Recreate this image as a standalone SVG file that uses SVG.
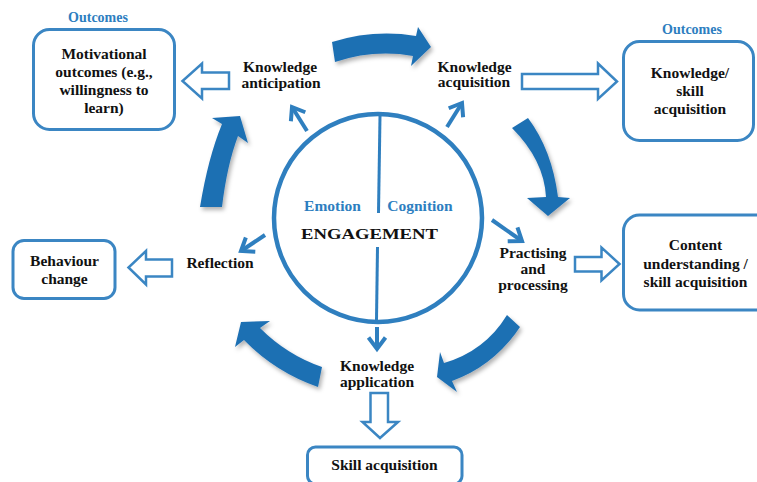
<svg xmlns="http://www.w3.org/2000/svg" width="757" height="482" viewBox="0 0 757 482">
  <style>
    .lbl { font-family: "Liberation Serif", "Times New Roman", serif; font-weight: bold; font-size: 15.5px; fill: #111; text-anchor: middle; }
    .blue { font-family: "Liberation Serif", "Times New Roman", serif; font-weight: bold; fill: #2d7ec0; text-anchor: middle; }
    .box { fill: #fff; stroke: #3b86c3; stroke-width: 3; }
    .hollow { fill: #fff; stroke: #3b86c3; stroke-width: 2.5; stroke-linejoin: miter; }
    .cycle { fill: #1f6fb3; filter: url(#shadow); }
    .thin { fill: none; stroke: #2f7fbf; stroke-width: 4; marker-end: url(#chev); }
  </style>
  <defs>
    <filter id="shadow" x="-30%" y="-30%" width="160%" height="160%">
      <feDropShadow dx="2" dy="3" stdDeviation="2" flood-color="#000" flood-opacity="0.3"/>
    </filter>
    <marker id="chev" markerUnits="userSpaceOnUse" viewBox="-16 -12 20 24" markerWidth="20" markerHeight="24" refX="0" refY="0" orient="auto">
      <path d="M-11.5,-8.5 L0,0 L-11.5,8.5" fill="none" stroke="#2f7fbf" stroke-width="4"/>
    </marker>
  </defs>

  <rect width="757" height="482" fill="#fff"/>

  <!-- cycle of thick curved arrows around the engagement circle -->
  <g id="cycle-arrows">
    <path class="cycle" d="M332,42 Q374,29 416,36 L418,27 L431,47 L411,66 L413,56 Q374,49 335,62 Z"/>
    <path class="cycle" d="M528,118 Q552,150 558,197 L570,198 L548,216 L527,198 L546,197 Q544,160 512,128 Z"/>
    <path class="cycle" d="M520,327 Q494,366 452,381 L457,392 L437,377 L440,352 L444,363 Q485,351 507,315 Z"/>
    <path class="cycle" d="M322,367 Q287,355 260,328 L270,321 L241,322 L235,347 L244,340 Q275,372 318,387 Z"/>
    <path class="cycle" d="M200,207 Q208,158 222,124 L212,118 L240,116 L248,143 L238,136 Q227,165 222,207 Z"/>
  </g>

  <!-- engagement circle -->
  <g id="engagement">
    <circle cx="378" cy="218" r="104" fill="none" stroke="#2f7fbf" stroke-width="4.5"/>
    <line x1="380" y1="116" x2="378.5" y2="213" stroke="#2f7fbf" stroke-width="3"/>
    <line x1="377.5" y1="247" x2="376.5" y2="320" stroke="#2f7fbf" stroke-width="3"/>
    <text class="blue" x="332.5" y="211" font-size="15.5">Emotion</text>
    <text class="blue" x="420" y="211" font-size="15.5">Cognition</text>
    <text class="lbl" x="369.5" y="238.5" font-size="19" textLength="137" lengthAdjust="spacingAndGlyphs">ENGAGEMENT</text>
  </g>

  <!-- connectors: thin arrows out of the circle and hollow arrows to outcomes -->
  <g id="connectors">
    <line class="thin" x1="307" y1="131" x2="292" y2="107"/>
    <line class="thin" x1="447" y1="127" x2="462" y2="103"/>
    <line class="thin" x1="492" y1="220" x2="522" y2="241"/>
    <line class="thin" x1="265" y1="235" x2="241" y2="251"/>
    <line class="thin" x1="377" y1="327" x2="377" y2="349"/>

    <polygon class="hollow" points="229,72.5 202,72.5 202,63.5 182.5,81 202,98.5 202,89 229,89"/>
    <polygon class="hollow" points="522,74 598,74 598,63.5 617,81.5 598,99 598,89 522,89"/>
    <polygon class="hollow" points="575,257 601.5,257 601.5,247.5 619.5,264 601.5,280.5 601.5,271.5 575,271.5"/>
    <polygon class="hollow" points="172,259.5 146,259.5 146,251 128.5,267.5 146,284.5 146,276.5 172,276.5"/>
    <polygon class="hollow" points="370.5,393 388,393 388,422 398,422 380,438 362.5,422 370.5,422"/>
  </g>

  <g id="knowledge-anticipation">
    <text class="lbl" x="280" y="71.5">Knowledge</text>
    <text class="lbl" x="281" y="87.5">anticipation</text>
  </g>

  <g id="knowledge-acquisition">
    <text class="lbl" x="474.5" y="71.5">Knowledge</text>
    <text class="lbl" x="474" y="87">acquisition</text>
  </g>

  <g id="practising">
    <text class="lbl" x="533" y="258">Practising</text>
    <text class="lbl" x="533" y="274">and</text>
    <text class="lbl" x="533" y="290">processing</text>
  </g>

  <g id="knowledge-application">
    <text class="lbl" x="377" y="371">Knowledge</text>
    <text class="lbl" x="377" y="387">application</text>
  </g>

  <g id="reflection">
    <text class="lbl" x="220" y="268">Reflection</text>
  </g>

  <g id="motivational-outcomes">
    <text class="blue" x="98" y="22" font-size="14">Outcomes</text>
    <rect class="box" x="33.5" y="29.5" width="141" height="100" rx="16"/>
    <text class="lbl" x="104" y="58.5">Motivational</text>
    <text class="lbl" x="104" y="76.5">outcomes (e.g.,</text>
    <text class="lbl" x="104" y="94.5">willingness to</text>
    <text class="lbl" x="104" y="112.5">learn)</text>
  </g>

  <g id="knowledge-skill-outcome">
    <text class="blue" x="692" y="34" font-size="14">Outcomes</text>
    <rect class="box" x="623.5" y="41.5" width="130" height="99" rx="16"/>
    <text class="lbl" x="690" y="78">Knowledge/</text>
    <text class="lbl" x="690" y="96">skill</text>
    <text class="lbl" x="690" y="114">acquisition</text>
  </g>

  <g id="content-understanding">
    <rect class="box" x="623.5" y="215" width="150" height="95" rx="16"/>
    <text class="lbl" x="695.5" y="250">Content</text>
    <text class="lbl" x="695.5" y="268.5">understanding /</text>
    <text class="lbl" x="695.5" y="287">skill acquisition</text>
  </g>

  <g id="behaviour-change">
    <rect class="box" x="13" y="240.5" width="102" height="58" rx="11"/>
    <text class="lbl" x="64.5" y="266">Behaviour</text>
    <text class="lbl" x="64.5" y="283.5">change</text>
  </g>

  <g id="skill-acquisition">
    <rect class="box" x="307.5" y="447" width="154.5" height="37" rx="8"/>
    <text class="lbl" x="384.5" y="470">Skill acquisition</text>
  </g>
</svg>
